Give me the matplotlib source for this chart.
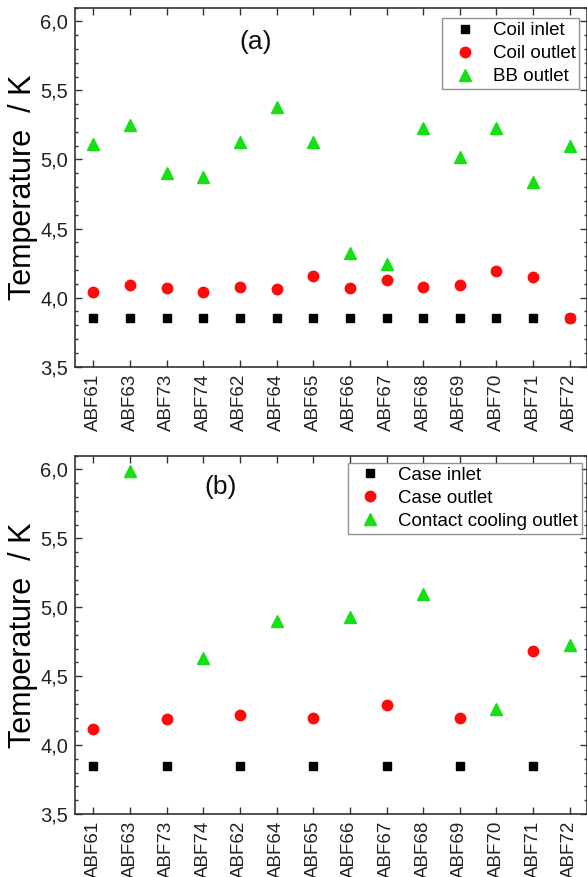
import numpy as np
import matplotlib
matplotlib.use("Agg")
import matplotlib.pyplot as plt
from matplotlib.ticker import MultipleLocator

plt.rcParams['font.family'] = ['Liberation Sans', 'DejaVu Sans']

magnets = ["ABF61", "ABF63", "ABF73", "ABF74", "ABF62", "ABF64", "ABF65",
           "ABF66", "ABF67", "ABF68", "ABF69", "ABF70", "ABF71", "ABF72"]

# (a) coil cooling circuit
coil_inlet = [3.85, 3.85, 3.85, 3.85, 3.85, 3.85, 3.85,
              3.85, 3.85, 3.85, 3.85, 3.85, 3.85, 3.85]
coil_outlet = [4.04, 4.09, 4.07, 4.04, 4.08, 4.06, 4.16,
               4.07, 4.13, 4.08, 4.09, 4.19, 4.15, 3.85]
bb_outlet = [5.11, 5.25, 4.90, 4.87, 5.13, 5.38, 5.13,
             4.32, 4.24, 5.23, 5.02, 5.23, 4.84, 5.10]

# (b) case cooling circuit
nan = np.nan
case_inlet = [3.85, nan, 3.85, nan, 3.85, nan, 3.85,
              nan, 3.85, nan, 3.85, nan, 3.85, nan]
case_outlet = [4.12, nan, 4.19, nan, 4.22, nan, 4.20,
               nan, 4.29, nan, 4.20, nan, 4.68, nan]
contact_outlet = [nan, 5.99, nan, 4.63, nan, 4.90, nan,
                  4.93, nan, 5.10, nan, 4.26, nan, 4.73]

outlet_err = 0.03

y_ticks = [3.5, 4.0, 4.5, 5.0, 5.5, 6.0]
y_ticklabels = ["3,5", "4,0", "4,5", "5,0", "5,5", "6,0"]

GREEN = '#14e014'
RED = '#ff0a0a'
EDGE = '#333333'


def style_axes(ax):
    x = np.arange(len(magnets))
    ax.set_xlim(-0.5, 13.47)
    ax.set_ylim(3.5, 6.1)
    ax.set_xticks(x)
    ax.set_xticklabels(magnets, rotation=90, fontsize=13.5, color='#222222')
    ax.set_yticks(y_ticks)
    ax.set_yticklabels(y_ticklabels, fontsize=14.5, color='#222222')
    ax.yaxis.set_minor_locator(MultipleLocator(0.1))
    ax.tick_params(which='both', direction='in', top=True, right=True,
                   color=EDGE, width=1.0)
    ax.tick_params(which='major', length=5, pad=5)
    ax.tick_params(which='minor', length=2.5)
    ax.tick_params(axis='x', which='minor', bottom=False, top=False)
    for sp in ax.spines.values():
        sp.set_color(EDGE)
        sp.set_linewidth(1.2)
    ax.set_ylabel("Temperature  / K", fontsize=22)
    ax.yaxis.set_label_coords(-0.072, 0.5)


def draw_panel(ax, inlet, outlet, third, names, tag, tag_pos, legend_box):
    x = np.arange(len(magnets))
    ax.errorbar(x, outlet, yerr=outlet_err, fmt='none', ecolor='#f6b4b4',
                elinewidth=2.0, capsize=0, zorder=2)
    ax.plot(x, inlet, 's', color='black', markersize=6, linestyle='none',
            label=names[0], zorder=3)
    ax.plot(x, outlet, 'o', color=RED, markersize=7.5, linestyle='none',
            label=names[1], zorder=4)
    ax.plot(x, third, '^', color=GREEN, markersize=8.5, linestyle='none',
            label=names[2], zorder=5)
    style_axes(ax)
    ax.text(tag_pos[0], tag_pos[1], tag, transform=ax.transAxes,
            fontsize=19, ha='center', va='center', color='#111111')
    leg = ax.legend(loc='upper right', bbox_to_anchor=legend_box,
                    fontsize=13.5, frameon=True, fancybox=False,
                    borderpad=0.2, handlelength=2.0, handletextpad=0.5,
                    labelspacing=0.32, borderaxespad=0.0)
    leg.get_frame().set_edgecolor('#777777')
    leg.get_frame().set_linewidth(1.0)


fig = plt.figure(figsize=(5.87, 8.77), dpi=100)
ax_a = fig.add_axes([0.1278, 0.5819, 0.8722, 0.4095])
ax_b = fig.add_axes([0.1278, 0.0718, 0.8722, 0.4086])

draw_panel(ax_a, coil_inlet, coil_outlet, bb_outlet,
           ["Coil inlet", "Coil outlet", "BB outlet"],
           "(a)", (0.352, 0.904), (0.985, 0.97))
draw_panel(ax_b, case_inlet, case_outlet, contact_outlet,
           ["Case inlet", "Case outlet", "Contact cooling outlet"],
           "(b)", (0.285, 0.913), (0.99, 0.98))

fig.savefig("out.png", dpi=100)
